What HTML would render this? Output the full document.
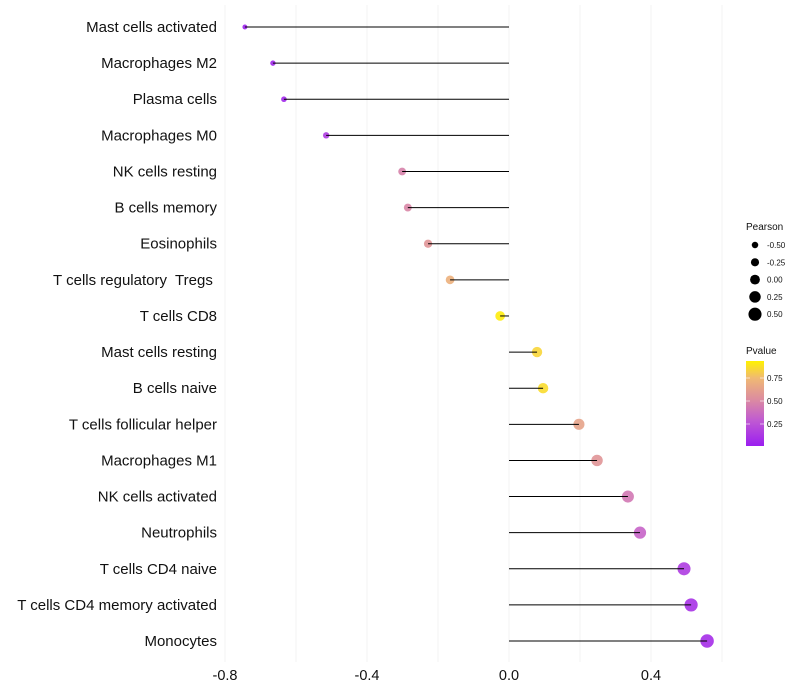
<!DOCTYPE html>
<html><head><meta charset="utf-8"><style>
body{margin:0;background:#fff;}
svg{font-family:"Liberation Sans",sans-serif;display:block}
text{white-space:pre}
</style></head><body>
<svg id="c" width="800" height="700"></svg>
<script>
const categories=["Mast cells activated","Macrophages M2","Plasma cells","Macrophages M0","NK cells resting","B cells memory","Eosinophils","T cells regulatory  Tregs ","T cells CD8","Mast cells resting","B cells naive","T cells follicular helper","Macrophages M1","NK cells activated","Neutrophils","T cells CD4 naive","T cells CD4 memory activated","Monocytes"];
const pearson=[-0.744,-0.665,-0.634,-0.515,-0.301,-0.285,-0.228,-0.166,-0.025,0.079,0.096,0.197,0.248,0.335,0.369,0.493,0.513,0.558];
const pvalues=[0.02,0.05,0.05,0.15,0.5,0.52,0.6,0.75,0.98,0.9,0.92,0.68,0.6,0.45,0.35,0.15,0.1,0.08];
const xTicks=[-0.8,-0.4,0.0,0.4];
const xMinor=[-0.6,-0.2,0.2,0.6];
const sizeLegend=[-0.5,-0.25,0,0.25,0.5];
const colorTicks=[0.25,0.5,0.75];
const NS="http://www.w3.org/2000/svg";
const svg=document.getElementById('c');
function mk(t,a,p){const e=document.createElementNS(NS,t);for(const k in a)e.setAttribute(k,a[k]);(p||svg).appendChild(e);return e;}
const x=v=>509+v*355;
const y=i=>27+i*36.12;
const r=v=>Math.max(1.6,4.9+3.3*v);
const stops=[[0,[155,30,240]],[0.3,[192,90,210]],[0.55,[220,140,160]],[0.8,[240,185,115]],[1,[255,242,0]]];
function col(p){for(let i=1;i<stops.length;i++){if(p<=stops[i][0]){const a=stops[i-1],b=stops[i],t=(p-a[0])/(b[0]-a[0]);return 'rgb('+a[1].map((c,k)=>Math.round(c+(b[1][k]-c)*t)).join(',')+')';}}return 'rgb(255,242,0)';}
xTicks.concat(xMinor).forEach(v=>{const l=mk('line',{x1:x(v),x2:x(v),y1:5,y2:662,stroke:'#f3f3f3','stroke-width':1});

});
xTicks.forEach(v=>{const t=mk('text',{x:x(v),y:680,'text-anchor':'middle','font-size':14.5,fill:'#111'});t.textContent=v.toFixed(1);

});
categories.forEach((c,i)=>{
const t=mk('text',{x:217,y:y(i)+5,'text-anchor':'end','font-size':15,fill:'#111'});t.textContent=c;


const d=mk('circle',{cx:x(pearson[i]),cy:y(i),r:r(pearson[i]),fill:col(pvalues[i]),'fill-opacity':0.9});


const l=mk('line',{x1:x(0),x2:x(pearson[i]),y1:y(i),y2:y(i),stroke:'#000','stroke-width':1});


});
const st=mk('text',{x:746,y:230,'font-size':10,fill:'#111'});st.textContent='Pearson';


sizeLegend.forEach((v,i)=>{const cy=245+i*17.3;
const c=mk('circle',{cx:755,cy:cy,r:r(v),fill:'#000'});


const t=mk('text',{x:767,y:cy+3,'font-size':8,fill:'#111'});t.textContent=v.toFixed(2);

});
const ct=mk('text',{x:746,y:354,'font-size':10,fill:'#111'});ct.textContent='Pvalue';


const defs=mk('defs',{});const g=mk('linearGradient',{id:'pg',x1:0,y1:1,x2:0,y2:0},defs);
stops.forEach(s=>mk('stop',{offset:s[0],'stop-color':'rgb('+s[1].join(',')+')'},g));
const cb=mk('rect',{x:746,y:361,width:18,height:85,fill:'url(#pg)'});


const cy=p=>447-p*92;
colorTicks.forEach(p=>{mk('line',{x1:746,x2:750,y1:cy(p),y2:cy(p),stroke:'#fff','stroke-opacity':0.6});mk('line',{x1:760,x2:764,y1:cy(p),y2:cy(p),stroke:'#fff','stroke-opacity':0.6});
const t=mk('text',{x:767,y:cy(p)+3,'font-size':8,fill:'#111'});t.textContent=p.toFixed(2);

});
</script>
</body></html>
